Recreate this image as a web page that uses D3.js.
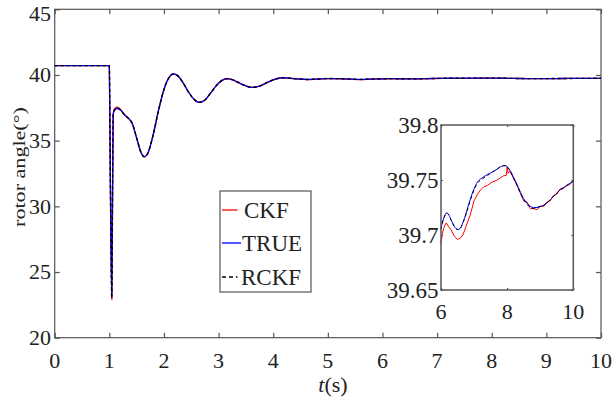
<!DOCTYPE html>
<html>
<head>
<meta charset="utf-8">
<script src="https://cdn.jsdelivr.net/npm/d3@7/dist/d3.min.js"></script>
<style>
  html, body { margin: 0; padding: 0; background: #fff; }
  svg { display: block; }
  text { font-family: "Liberation Serif", "Times New Roman", serif; fill: #222; }
</style>
</head>
<body>
<svg id="chart" width="616" height="403"></svg>
<script>
// ---------------- data ----------------
const xTicks = [0, 1, 2, 3, 4, 5, 6, 7, 8, 9, 10];
const yTicks = [20, 25, 30, 35, 40, 45];
const insetXTicks = [6, 8, 10];
const insetYTicks = [39.65, 39.7, 39.75, 39.8];
const insetYLabels = ["39.65", "39.7", "39.75", "39.8"];
const seriesNames = ["CKF", "TRUE", "RCKF"];

const tMain = [0, 1.0, 1.02, 1.045, 1.07, 1.1, 1.15, 1.2, 1.28, 1.35, 1.42, 1.5, 1.58, 1.64, 1.7, 1.8, 1.9, 2.0, 2.1, 2.17, 2.25, 2.35, 2.45, 2.55, 2.64, 2.75, 2.85, 2.95, 3.05, 3.15, 3.25, 3.35, 3.45, 3.55, 3.62, 3.75, 3.9, 4.05, 4.17, 4.3, 4.45, 4.62, 4.8, 5.0, 5.2, 5.4, 5.6, 5.8];
const trueMain = [40.71, 40.71, 31.5, 23.2, 37.0, 37.35, 37.45, 37.35, 36.95, 36.7, 36.3, 35.2, 34.1, 33.78, 34.0, 35.4, 37.3, 38.9, 39.85, 40.08, 39.95, 39.4, 38.7, 38.15, 37.92, 38.1, 38.6, 39.15, 39.55, 39.72, 39.65, 39.45, 39.25, 39.1, 39.06, 39.15, 39.45, 39.7, 39.79, 39.76, 39.70, 39.66, 39.69, 39.73, 39.72, 39.69, 39.66, 39.69];
const ckfMain = [40.71, 40.71, 31.3, 22.9, 37.05, 37.45, 37.55, 37.4, 36.97, 36.7, 36.3, 35.2, 34.1, 33.77, 34.0, 35.4, 37.3, 38.9, 39.85, 40.08, 39.95, 39.4, 38.7, 38.15, 37.92, 38.1, 38.6, 39.15, 39.55, 39.71, 39.64, 39.44, 39.25, 39.1, 39.05, 39.15, 39.45, 39.69, 39.78, 39.75, 39.69, 39.65, 39.68, 39.72, 39.71, 39.68, 39.65, 39.68];
const rckfMain = [40.71, 40.71, 31.4, 23.0, 37.0, 37.38, 37.48, 37.36, 36.95, 36.7, 36.3, 35.2, 34.1, 33.78, 34.0, 35.4, 37.3, 38.9, 39.85, 40.08, 39.95, 39.4, 38.7, 38.15, 37.92, 38.1, 38.6, 39.15, 39.55, 39.72, 39.65, 39.45, 39.25, 39.1, 39.06, 39.15, 39.45, 39.7, 39.79, 39.76, 39.70, 39.66, 39.69, 39.73, 39.72, 39.69, 39.66, 39.69];

const tInset = [6.0, 6.04, 6.08, 6.12, 6.16, 6.22, 6.3, 6.4, 6.5, 6.58, 6.66, 6.76, 6.88, 7.0, 7.1, 7.2, 7.3, 7.4, 7.54, 7.7, 7.8, 7.9, 7.97, 8.0, 8.03, 8.08, 8.15, 8.22, 8.3, 8.4, 8.5, 8.6, 8.7, 8.8, 8.9, 9.0, 9.1, 9.2, 9.3, 9.4, 9.5, 9.6, 9.7, 9.8, 9.9, 10.0];
const trueInset = [39.706, 39.711, 39.715, 39.718, 39.720, 39.719, 39.714, 39.708, 39.705, 39.706, 39.711, 39.720, 39.732, 39.742, 39.748, 39.751, 39.753, 39.755, 39.757, 39.760, 39.762, 39.763, 39.763, 39.762, 39.761, 39.759, 39.755, 39.751, 39.746, 39.739, 39.733, 39.729, 39.726, 39.725, 39.725, 39.726, 39.727, 39.729, 39.732, 39.735, 39.738, 39.741, 39.743, 39.745, 39.747, 39.749];
const ckfInset = [39.692, 39.701, 39.706, 39.709, 39.711, 39.708, 39.705, 39.699, 39.696, 39.697, 39.700, 39.708, 39.718, 39.731, 39.737, 39.741, 39.744, 39.745, 39.748, 39.750, 39.752, 39.754, 39.754, 39.762, 39.756, 39.758, 39.754, 39.750, 39.745, 39.738, 39.731, 39.730, 39.724, 39.724, 39.723, 39.726, 39.726, 39.730, 39.731, 39.736, 39.737, 39.742, 39.742, 39.745, 39.746, 39.750];
const rckfInset = [39.705, 39.711, 39.715, 39.718, 39.720, 39.719, 39.714, 39.708, 39.705, 39.706, 39.711, 39.719, 39.731, 39.741, 39.747, 39.750, 39.752, 39.754, 39.757, 39.760, 39.762, 39.763, 39.763, 39.762, 39.761, 39.759, 39.755, 39.750, 39.745, 39.738, 39.732, 39.728, 39.725, 39.724, 39.725, 39.726, 39.727, 39.729, 39.732, 39.735, 39.738, 39.741, 39.743, 39.745, 39.747, 39.749];

// ---------------- layout ----------------
const svg = d3.select("#chart");
const M = { left: 54.7, right: 601, top: 9.3, bottom: 337.7 };
const I = { left: 441, right: 573.3, top: 125, bottom: 290 };
const AXIS = "#555";
const COLORS = { CKF: "#ff0000", TRUE: "#0000ff", RCKF: "#000000" };

const x = d3.scaleLinear().domain([0, 10]).range([M.left, M.right]);
const y = d3.scaleLinear().domain([20, 45]).range([M.bottom, M.top]);
const xi = d3.scaleLinear().domain([6, 10]).range([I.left, I.right]);
const yi = d3.scaleLinear().domain([39.65, 39.8]).range([I.bottom, I.top]);

function zip(ts, vs) { return ts.map((t, i) => [t, vs[i]]); }
const mainData = {
  CKF: zip(tMain.concat(tInset), ckfMain.concat(ckfInset)),
  TRUE: zip(tMain.concat(tInset), trueMain.concat(trueInset)),
  RCKF: zip(tMain.concat(tInset), rckfMain.concat(rckfInset))
};
const insetData = {
  CKF: zip(tInset, ckfInset),
  TRUE: zip(tInset, trueInset),
  RCKF: zip(tInset, rckfInset)
};

function drawFrame(g, xs, ys, xt, yt, tickLen, opts) {
  const [x0, x1] = xs.range();
  const [y0, y1] = ys.range();
  g.append("rect").attr("x", x0).attr("y", y1).attr("width", x1 - x0).attr("height", y0 - y1)
    .attr("fill", opts.fill || "none").attr("stroke", AXIS).attr("stroke-width", opts.sw || 1.2);
  g.append("g").attr("transform", `translate(0,${y0})`)
    .call(d3.axisBottom(xs).tickValues(xt).tickSizeInner(-tickLen).tickSizeOuter(0).tickFormat(""))
    .call(a => a.select(".domain").remove()).selectAll("line").attr("stroke", AXIS).attr("stroke-width", 1.2);
  g.append("g").attr("transform", `translate(0,${y1})`)
    .call(d3.axisTop(xs).tickValues(xt).tickSizeInner(-tickLen).tickSizeOuter(0).tickFormat(""))
    .call(a => a.select(".domain").remove()).selectAll("line").attr("stroke", AXIS).attr("stroke-width", 1.2);
  g.append("g").attr("transform", `translate(${x0},0)`)
    .call(d3.axisLeft(ys).tickValues(yt).tickSizeInner(-tickLen).tickSizeOuter(0).tickFormat(""))
    .call(a => a.select(".domain").remove()).selectAll("line").attr("stroke", AXIS).attr("stroke-width", 1.2);
  g.append("g").attr("transform", `translate(${x1},0)`)
    .call(d3.axisRight(ys).tickValues(yt).tickSizeInner(-tickLen).tickSizeOuter(0).tickFormat(""))
    .call(a => a.select(".domain").remove()).selectAll("line").attr("stroke", AXIS).attr("stroke-width", 1.2);
}

// ---------------- main plot ----------------
const gMain = svg.append("g");
drawFrame(gMain, x, y, xTicks, yTicks, 5, { sw: 1.2 });

const lineMain = d3.line().x(d => x(d[0])).y(d => y(d[1])).curve(d3.curveMonotoneX);
["CKF", "TRUE", "RCKF"].forEach(name => {
  gMain.append("path").datum(mainData[name]).attr("d", lineMain)
    .attr("fill", "none").attr("stroke", COLORS[name])
    .attr("stroke-width", name === "RCKF" ? 1.4 : 1.3)
    .attr("stroke-dasharray", name === "RCKF" ? "3,3" : null);
});

// tick labels
gMain.selectAll(".xl").data(xTicks).enter().append("text")
  .attr("x", d => x(d)).attr("y", 368).attr("text-anchor", "middle")
  .attr("font-size", 22).text(d => d);
gMain.selectAll(".yl").data(yTicks).enter().append("text")
  .attr("x", 51).attr("y", d => Math.max(y(d), 14)).attr("dy", "0.33em").attr("text-anchor", "end")
  .attr("font-size", 22).text(d => d);

// axis titles
const xt = gMain.append("text").attr("x", 333).attr("y", 392).attr("text-anchor", "middle").attr("font-size", 22);
xt.append("tspan").attr("font-style", "italic").text("t");
xt.append("tspan").text("(s)");
gMain.append("text").attr("transform", "translate(24.5,167) rotate(-90) scale(1.3,1)")
  .attr("text-anchor", "middle").attr("font-size", 17).text("rotor angle(°)");

// ---------------- legend ----------------
const leg = svg.append("g");
leg.append("rect").attr("x", 220).attr("y", 191).attr("width", 91).attr("height", 101)
  .attr("fill", "#fff").attr("stroke", AXIS).attr("stroke-width", 1.2);
const legY = [210, 243, 277];
seriesNames.forEach((name, i) => {
  leg.append("line").attr("x1", 222).attr("x2", name === "TRUE" ? 241 : 237.5)
    .attr("y1", legY[i]).attr("y2", legY[i])
    .attr("stroke", name === "TRUE" ? "#5555ff" : COLORS[name]).attr("stroke-width", name === "TRUE" ? 2 : 1.3)
    .attr("stroke-dasharray", name === "RCKF" ? "4,3" : null);
  leg.append("text").attr("x", name === "CKF" ? 244 : (name === "TRUE" ? 242 : 241))
    .attr("y", legY[i]).attr("dy", "0.36em")
    .attr("font-size", 23).text(name);
});

// ---------------- inset ----------------
const gIn = svg.append("g");
gIn.append("rect").attr("x", I.left).attr("y", I.top).attr("width", I.right - I.left).attr("height", I.bottom - I.top).attr("fill", "#fff");
const lineInSmooth = d3.line().x(d => xi(d[0])).y(d => yi(d[1])).curve(d3.curveMonotoneX);
const lineInRough = d3.line().x(d => xi(d[0])).y(d => yi(d[1])).curve(d3.curveLinear);
["CKF", "TRUE", "RCKF"].forEach(name => {
  gIn.append("path").datum(insetData[name]).attr("d", name === "CKF" ? lineInRough : lineInSmooth)
    .attr("fill", "none").attr("stroke", COLORS[name])
    .attr("stroke-width", 1)
    .attr("stroke-dasharray", name === "RCKF" ? "3,3" : null);
});
drawFrame(gIn, xi, yi, insetXTicks, insetYTicks, 2, { sw: 1.5 });

gIn.selectAll(".ixl").data(insetXTicks).enter().append("text")
  .attr("x", d => xi(d)).attr("y", 319).attr("text-anchor", "middle")
  .attr("font-size", 22).text(d => d);
gIn.selectAll(".iyl").data(insetYTicks).enter().append("text")
  .attr("x", 438.5).attr("y", d => yi(d)).attr("dy", "0.33em").attr("text-anchor", "end")
  .attr("font-size", 23).text((d, i) => insetYLabels[i]);
</script>
</body>
</html>
